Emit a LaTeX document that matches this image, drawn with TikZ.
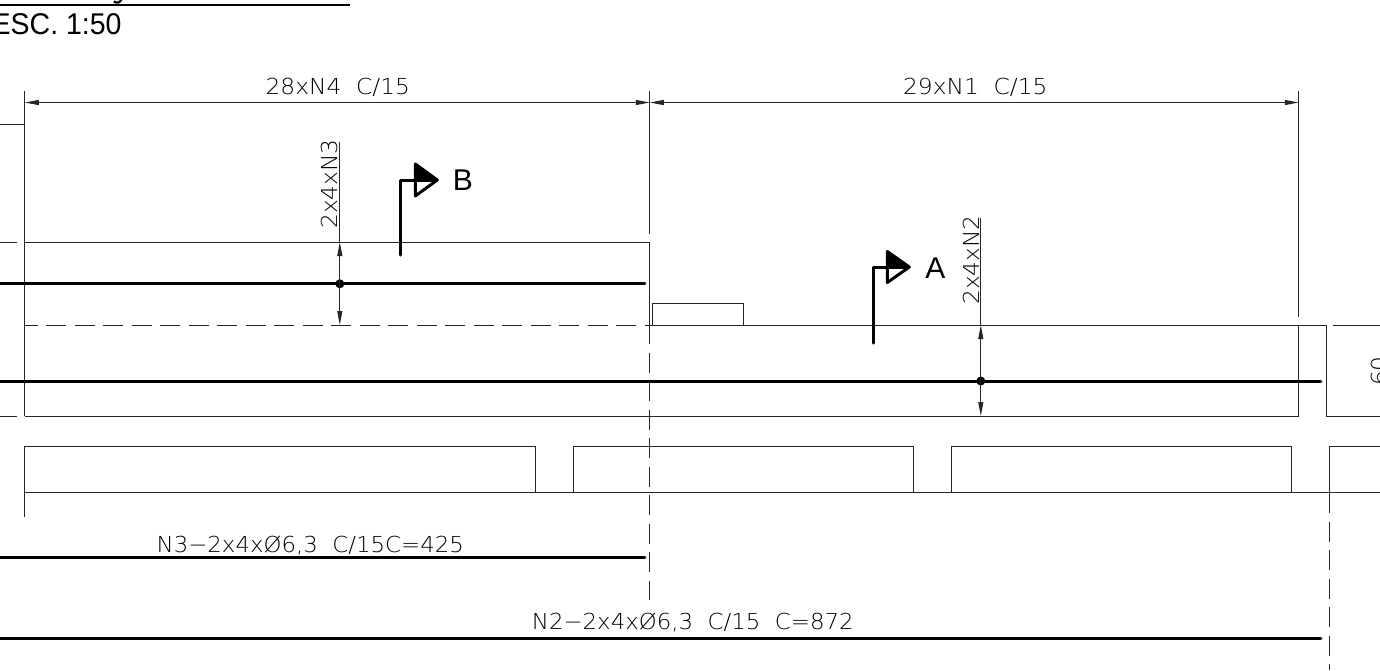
\documentclass[tikz,border=0pt]{standalone}
\usepackage{fontspec}
\setmainfont{Liberation Sans}
\newfontfamily\cadfont[FakeStretch=1.06]{DejaVu Sans ExtraLight}
\newfontfamily\titlefont[FakeStretch=0.95]{Liberation Sans}
\usetikzlibrary{arrows.meta}
\tikzset{
  thin line/.style={line width=1pt,draw=black!85},
  bar/.style={line width=3pt,draw=black,line cap=round},
  dash line/.style={line width=1pt,draw=black!85,dash pattern=on 20pt off 8.5pt},
  dimension/.style={thin line,{Stealth[length=14pt,width=5pt,inset=0pt]}-{Stealth[length=14pt,width=5pt,inset=0pt]}},
  cadlabel/.style={anchor=base,inner sep=0pt,outer sep=0pt,text=black,font=\cadfont\fontsize{22}{22}\selectfont},
  marktext/.style={anchor=base,inner sep=0pt,outer sep=0pt,font=\fontsize{30}{30}\selectfont},
  section line/.style={line width=3pt,draw=black,line cap=round,line join=round},
  dotmark/.style={circle,fill=black,inner sep=0pt,minimum size=9pt}
}
\begin{document}
\begin{tikzpicture}[x=1pt,y=-1pt]
\clip (0,0) rectangle (1380,670);
\fill[white] (0,0) rectangle (1380,670);
\begin{scope}[xshift=-0.2pt]
% title
\draw[line width=2.6pt] (0,5) -- (350.6,5);
\draw[line width=2.2pt] (114,1.5) .. controls (117,3.5) and (120,3) .. (122,-1);
\node[anchor=base east,inner sep=0pt,font=\titlefont\fontsize{30}{30}\selectfont] (title) at (122,34.5) {ESC. 1:50};
% left stubs
\draw[thin line] (0,124) -- (25,124);
\draw[thin line] (0,242) -- (17,242);
\draw[thin line] (0,416) -- (17,416);
% extension lines
\draw[thin line] (25,91) -- (25,416);
\draw[thin line] (25,446) -- (25,517);
\draw[thin line] (650,91) -- (650,234);
\draw[thin line] (650,242) -- (650,325);
\draw[thin line] (1299,91) -- (1299,317);
\draw[thin line] (1299,325) -- (1299,416);
% top dimension
\coordinate (d1) at (25,102.5); \coordinate (d2) at (650,102.5); \coordinate (d3) at (1299,102.5);
\draw[dimension] (d1) -- (d2);
\draw[dimension] (d2) -- (d3);
\node[cadlabel] (l1) at (338,94) {28xN4\ \ C/15};
\node[cadlabel] (l2) at (975.5,94) {29xN1\ \ C/15};
% beam
\draw[thin line] (25,242) -- (650,242);
\draw[dash line,dash phase=7pt] (25,325) -- (650,325);
\draw[thin line] (650,325) -- (1327,325) -- (1327,416) -- (1380.6,416);
\draw[thin line] (1333,325) -- (1380.6,325);
\draw[thin line] (25,416) -- (1299,416);
\draw[thin line] (653,325) -- (653,303) -- (744,303) -- (744,325);
% centre dashed lines
\draw[dash line] (650,324) -- (650,600);
\draw[dash line] (1330,493) -- (1330,670);
% rebars
\draw[bar] (-5,283.8) -- (645,283.8);
\draw[bar] (-5,381) -- (1321,381);
\draw[bar] (-5,557.2) -- (645,557.2);
\draw[bar] (-5,638.5) -- (1321,638.5);
% stirrup elevation
\draw[thin line] (25,446) -- (536,446) -- (536,492);
\draw[thin line] (574,492) -- (574,446) -- (914,446) -- (914,492);
\draw[thin line] (952,492) -- (952,446) -- (1292,446) -- (1292,492);
\draw[thin line] (1330,492) -- (1330,446) -- (1380.6,446);
\draw[thin line] (25,492) -- (1380.6,492);
% leaders N3
\node[dotmark] (n3) at (340,283.8) {};
\coordinate (n3t) at (340,142); \coordinate (n3a) at (340,242); \coordinate (n3b) at (340,325);
\draw[thin line] (n3t) -- (n3a);
\draw[dimension] (n3a) -- (n3b);
\node[cadlabel,rotate=90] (l3) at (338,184) {2x4xN3};
% leaders N2
\node[dotmark] (n2) at (981,381) {};
\coordinate (n2t) at (981,218); \coordinate (n2a) at (981,325); \coordinate (n2b) at (981,416);
\draw[thin line] (n2t) -- (n2a);
\draw[dimension] (n2a) -- (n2b);
\node[cadlabel,rotate=90] (l4) at (980,260) {2x4xN2};
% rebar labels
\node[cadlabel] (l5) at (310.5,552) {\scalebox{0.98}[1]{N3−2x4xØ6,3\ \ C/15C=425}};
\node[cadlabel] (l6) at (693,629) {\scalebox{0.98}[1]{N2−2x4xØ6,3\ \ C/15\ \ C=872}};
% section B
\draw[section line] (401,255) -- (401,180) -- (437,180);
\draw[section line] (415.5,164) -- (437.5,180) -- (415.5,196) -- cycle;
\fill[black] (415.5,164) -- (437.5,180) -- (415.5,180) -- cycle;
\node[marktext] (secB) at (463,190) {B};
% section A
\draw[section line] (873.5,343) -- (873.5,267) -- (909,267);
\draw[section line] (887.5,251.5) -- (909.5,267) -- (887.5,282.5) -- cycle;
\fill[black] (887.5,251.5) -- (909.5,267) -- (887.5,267) -- cycle;
\node[marktext] (secA) at (935.5,278) {A};
% clipped 60
\node[cadlabel,rotate=90] (l7) at (1388,371) {60};
\end{scope}
\end{tikzpicture}
\end{document}
